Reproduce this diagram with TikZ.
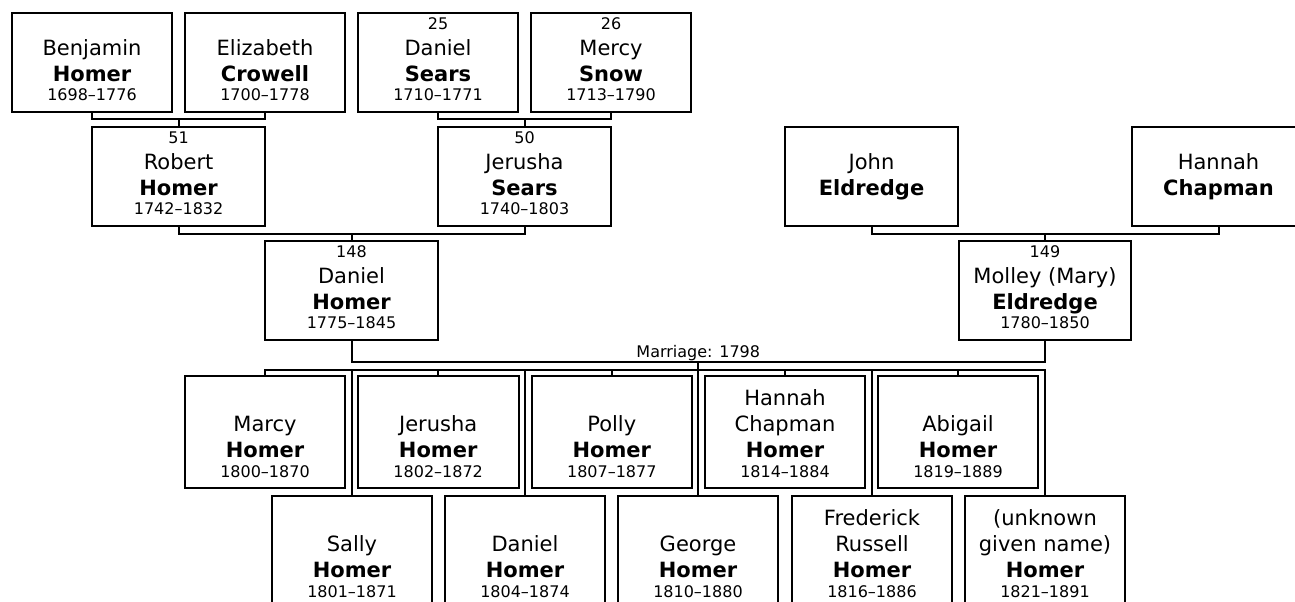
\documentclass[tikz,border=0pt]{standalone}
\usepackage{fontspec}
\setmainfont{DejaVu Sans}
\usepackage{tikz}
\usetikzlibrary{calc}
\newcommand{\nome}{\fontsize{21}{26}\selectfont}
\newcommand{\anos}{\fontsize{16}{19.5}\selectfont}
\newcommand{\pessoa}[4]{\parbox[b]{150pt}{\centering
    \anos #1\par
    \nome #2\par
    \textbf{#3}\par
    \anos\strut #4\par}}
\tikzset{
    caixa/.style={draw=black, line width=2pt, rectangle, inner sep=0pt, minimum width=160.6pt, text height=87.4pt, text depth=11pt},
    larga/.style={minimum width=172.7pt, text height=88pt},
    filho/.style={text height=101pt},
    linha/.style={draw=black, line width=2pt},
    rotulo/.style={font=\anos, inner sep=0pt}
}

\begin{document}
\begin{tikzpicture}[x=1pt, y=-1pt]
    % Area
    \useasboundingbox (0,0) rectangle (1295,602);
    \fill[white] (0,0) rectangle (1295,602);
    \clip (0,0) rectangle (1295,602);

    % Bisavos
    \node[caixa] (benjamin) at (92,62.5) {\pessoa{}{Benjamin}{Homer}{1698–1776}};
    \node[caixa] (elizabeth) at (265,62.5) {\pessoa{}{Elizabeth}{Crowell}{1700–1778}};
    \node[caixa] (danielsears) at (438,62.5) {\pessoa{25}{Daniel}{Sears}{1710–1771}};
    \node[caixa] (mercy) at (611,62.5) {\pessoa{26}{Mercy}{Snow}{1713–1790}};

    % Avos
    \node[caixa, larga] (robert) at (178.6,176.2) {\pessoa{51}{Robert}{Homer}{1742–1832}};
    \node[caixa, larga] (jerusha) at (524.5,176.2) {\pessoa{50}{Jerusha}{Sears}{1740–1803}};
    \node[caixa, larga] (john) at (871.5,176.2) {\pessoa{}{John}{Eldredge}{}};
    \node[caixa, larga] (hannah) at (1218.5,176.2) {\pessoa{}{Hannah}{Chapman}{}};

    % Pais
    \node[caixa, larga] (daniel) at (351.5,290.3) {\pessoa{148}{Daniel}{Homer}{1775–1845}};
    \node[caixa, larga] (molley) at (1045,290.3) {\pessoa{149}{Molley (Mary)}{Eldredge}{1780–1850}};

    % Filhos (linha de cima)
    \node[caixa, filho] (marcy) at (265,432) {\pessoa{}{Marcy}{Homer}{1800–1870}};
    \node[caixa, filho] (jerushah) at (438.2,432) {\pessoa{}{Jerusha}{Homer}{1802–1872}};
    \node[caixa, filho] (polly) at (611.8,432) {\pessoa{}{Polly}{Homer}{1807–1877}};
    \node[caixa, filho] (hannahh) at (785,432) {\pessoa{}{Hannah\par Chapman}{Homer}{1814–1884}};
    \node[caixa, filho] (abigail) at (958,432) {\pessoa{}{Abigail}{Homer}{1819–1889}};

    % Filhos (linha de baixo)
    \node[caixa, filho] (sally) at (352,552) {\pessoa{}{Sally}{Homer}{1801–1871}};
    \node[caixa, filho] (danielh) at (525,552) {\pessoa{}{Daniel}{Homer}{1804–1874}};
    \node[caixa, filho] (george) at (698,552) {\pessoa{}{George}{Homer}{1810–1880}};
    \node[caixa, filho] (frederick) at (872,552) {\pessoa{}{Frederick\par Russell}{Homer}{1816–1886}};
    \node[caixa, filho] (unknown) at (1045,552) {\pessoa{}{(unknown\par given name)}{Homer}{1821–1891}};

    % Ligacoes entre geracoes
    \draw[linha] (benjamin.south) -- ++(0,6.6) coordinate (barra1) -| (elizabeth.south);
    \draw[linha] (danielsears.south) -- ++(0,6.6) coordinate (barra2) -| (mercy.south);
    \draw[linha] (robert.north) -- (robert.north |- barra1);
    \draw[linha] (jerusha.north) -- (jerusha.north |- barra2);
    \draw[linha] (robert.south) -- ++(0,7.6) coordinate (barra3) -| (jerusha.south);
    \draw[linha] (john.south) -- ++(0,7.6) coordinate (barra4) -| (hannah.south);
    \draw[linha] (daniel.north) -- (daniel.north |- barra3);
    \draw[linha] (molley.north) -- (molley.north |- barra4);

    % Casamento
    \draw[linha] (daniel.south) -- ++(0,21) coordinate (casamento) -| (molley.south);
    \coordinate (meio) at ($(casamento)!0.5!(casamento -| molley.south)$);
    \node[rotulo, anchor=base, yshift=4.3pt] (rotulocasamento) at (meio) {Marriage: 1798};

    % Filhos
    \draw[linha] (meio) -- ++(0,8.3) coordinate (filhos);
    \draw[linha] (marcy.north) -- (marcy.north |- filhos) -- (filhos -| unknown.north) -- (unknown.north);
    \foreach \f in {jerushah, polly, hannahh, abigail, sally, danielh, george, frederick}
        \draw[linha] (\f.north) -- (\f.north |- filhos);
\end{tikzpicture}
\end{document}
